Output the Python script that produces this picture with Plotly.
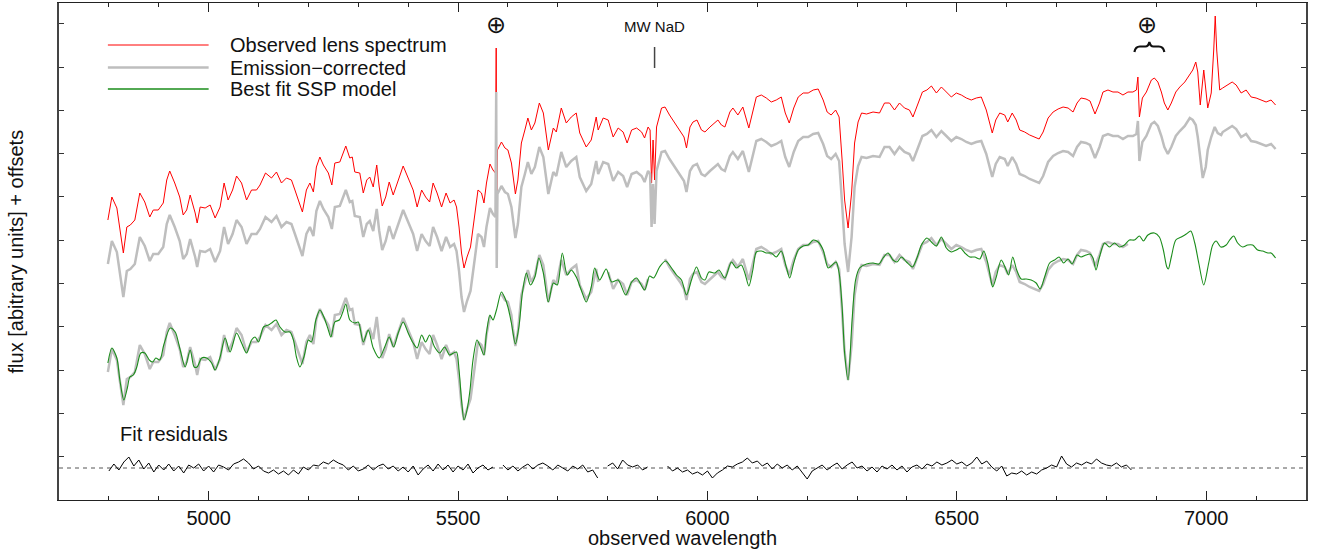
import numpy as np
import plotly.graph_objects as go

# ---------------- data ----------------
# Observed lens spectrum (arbitrary flux units)
OBS_WAVE = [4798, 4806, 4816, 4822, 4829, 4836, 4843, 4852, 4862, 4872, 4882, 4889, 4899, 4909, 4916, 4922,
            4932, 4942, 4949, 4956, 4963, 4973, 4977, 4983, 4993, 5003, 5013, 5023, 5031, 5039, 5048, 5056,
            5066, 5076, 5086, 5096, 5103, 5114, 5126, 5136, 5146, 5156, 5166, 5173, 5181, 5188, 5196, 5203,
            5210, 5216, 5223, 5230, 5240, 5247, 5253, 5263, 5275, 5283, 5288, 5293, 5303, 5310, 5317, 5323,
            5330, 5337, 5342, 5348, 5355, 5362, 5370, 5380, 5390, 5400, 5410, 5418, 5427, 5435, 5443, 5450,
            5458, 5467, 5476, 5484, 5492, 5497, 5502, 5507, 5512, 5518, 5525, 5534, 5540, 5547, 5552, 5557,
            5564, 5570, 5575, 5576.5, 5577.5, 5579, 5587, 5594, 5600, 5607, 5610, 5615, 5620, 5627, 5634, 5640,
            5647, 5654, 5663, 5671, 5681, 5691, 5697, 5707, 5717, 5727, 5737, 5744, 5757, 5767, 5777, 5781,
            5791, 5801, 5811, 5821, 5831, 5839, 5848, 5858, 5868, 5874, 5881, 5885, 5888, 5891, 5894, 5898,
            5908, 5915, 5924, 5935, 5945, 5953, 5958, 5965, 5971, 5979, 5988, 5995, 6005, 6015, 6021, 6028,
            6035, 6045, 6051, 6061, 6071, 6083, 6091, 6098, 6108, 6118, 6128, 6138, 6148, 6156, 6164, 6173,
            6182, 6192, 6202, 6212, 6222, 6232, 6240, 6248, 6257, 6264, 6270, 6275, 6282, 6289, 6295, 6302,
            6309, 6319, 6332, 6345, 6355, 6365, 6375, 6385, 6395, 6405, 6412, 6422, 6431, 6440, 6449, 6459,
            6469, 6479, 6489, 6499, 6509, 6519, 6529, 6539, 6549, 6559, 6566, 6571, 6578, 6586, 6596, 6602,
            6611, 6619, 6626, 6636, 6646, 6656, 6665, 6673, 6683, 6693, 6703, 6713, 6723, 6733, 6741, 6749,
            6759, 6767, 6772, 6777, 6786, 6793, 6803, 6813, 6823, 6833, 6843, 6853, 6860, 6863, 6866, 6872,
            6880, 6890, 6896, 6903, 6910, 6916, 6923, 6930, 6939, 6947, 6957, 6967, 6973, 6979, 6983, 6988,
            6995, 7003, 7010, 7015, 7018, 7021, 7027, 7033, 7043, 7052, 7060, 7070, 7080, 7090, 7100, 7110,
            7120, 7130, 7139]
OBS_FLUX = [128, 151, 140, 121, 95, 121, 123, 128, 155, 146, 131, 138, 138, 145, 168, 177,
            165, 151, 133, 138, 153, 135, 125, 141, 140, 143, 130, 141, 165, 148, 158, 172,
            165, 148, 158, 158, 163, 175, 170, 176, 165, 170, 168, 158, 145, 136, 158, 165,
            156, 181, 191, 183, 175, 163, 185, 186, 202, 190, 191, 176, 175, 155, 168, 171,
            161, 183, 161, 142, 151, 166, 153, 168, 182, 170, 158, 141, 158, 151, 146, 165,
            155, 141, 155, 145, 148, 141, 121, 95, 80, 91, 101, 135, 158, 155, 145, 165,
            184, 178, 175, 300, 124, 198, 206, 200, 198, 185, 171, 154, 168, 205, 218, 230,
            218, 225, 245, 235, 198, 220, 216, 240, 225, 231, 235, 215, 201, 208, 231, 218,
            230, 228, 211, 220, 216, 205, 218, 220, 216, 210, 221, 218, 165, 208, 168, 221,
            240, 241, 233, 225, 218, 211, 200, 221, 226, 228, 218, 216, 221, 226, 228, 223,
            221, 236, 240, 233, 241, 220, 235, 251, 253, 250, 246, 248, 251, 235, 225, 240,
            251, 255, 255, 258, 259, 248, 236, 233, 238, 231, 188, 148, 120, 155, 205, 226,
            235, 234, 236, 235, 245, 245, 238, 245, 240, 238, 231, 245, 256, 258, 262, 255,
            261, 256, 251, 255, 253, 250, 248, 250, 251, 238, 223, 215, 228, 235, 233, 226,
            235, 228, 218, 216, 213, 211, 209, 216, 230, 236, 239, 241, 240, 236, 245, 250,
            249, 247, 241, 234, 245, 256, 258, 256, 256, 253, 256, 256, 258, 271, 231, 250,
            256, 268, 270, 266, 256, 245, 238, 245, 256, 261, 266, 273, 278, 286, 276, 243,
            278, 240, 255, 298, 332, 298, 258, 260, 263, 266, 263, 255, 258, 251, 250, 248,
            246, 248, 243]

# Emission-corrected spectrum (same units)
CORR_WAVE = OBS_WAVE[:OBS_WAVE.index(6967)] + [6967, 6973, 6979, 6983, 6988, 6993, 6999, 7003, 7010, 7017,
                                               7023, 7030, 7033, 7043, 7052, 7060, 7070, 7080, 7090, 7100,
                                               7110, 7120, 7130, 7139]
CORR_FLUX = OBS_FLUX[:OBS_WAVE.index(6967)] + [274, 272, 267, 255, 235, 214, 225, 242, 255, 265,
                                               259, 257, 260, 263, 266, 263, 255, 258, 251, 250,
                                               248, 246, 248, 243]

# Best-fit SSP model
MODEL_WAVE = [4798, 4806, 4816, 4822, 4830, 4837, 4842, 4849, 4856, 4864, 4872, 4881, 4888, 4894, 4902, 4910,
              4923, 4933, 4943, 4953, 4963, 4971, 4977, 4986, 4996, 5006, 5013, 5023, 5033, 5043, 5056, 5066,
              5076, 5086, 5093, 5100, 5110, 5120, 5126, 5135, 5143, 5153, 5163, 5170, 5176, 5183, 5191, 5200,
              5206, 5215, 5223, 5231, 5240, 5245, 5253, 5262, 5269, 5275, 5283, 5293, 5300, 5310, 5320, 5330,
              5342, 5353, 5362, 5371, 5380, 5390, 5400, 5410, 5418, 5427, 5435, 5443, 5453, 5463, 5473, 5483,
              5491, 5497, 5502, 5507, 5512, 5518, 5524, 5530, 5538, 5545, 5552, 5557, 5564, 5570, 5577, 5587,
              5594, 5600, 5607, 5615, 5622, 5629, 5637, 5645, 5654, 5662, 5671, 5681, 5691, 5699, 5709, 5719,
              5727, 5737, 5747, 5757, 5767, 5774, 5784, 5797, 5808, 5821, 5836, 5848, 5858, 5874, 5884, 5892,
              5904, 5916, 5928, 5938, 5948, 5958, 5968, 5978, 5988, 5995, 6003, 6015, 6023, 6035, 6048, 6058,
              6068, 6075, 6083, 6091, 6098, 6108, 6118, 6128, 6138, 6148, 6158, 6165, 6173, 6182, 6192, 6202,
              6212, 6222, 6232, 6242, 6250, 6258, 6264, 6270, 6275, 6282, 6290, 6297, 6305, 6319, 6332, 6344,
              6352, 6362, 6372, 6380, 6389, 6399, 6411, 6420, 6429, 6440, 6449, 6459, 6469, 6479, 6489, 6499,
              6507, 6516, 6526, 6536, 6546, 6554, 6562, 6569, 6572, 6579, 6589, 6599, 6604, 6612, 6620, 6629,
              6639, 6649, 6659, 6667, 6676, 6686, 6696, 6705, 6714, 6723, 6731, 6741, 6749, 6759, 6767, 6773,
              6779, 6786, 6796, 6806, 6816, 6826, 6836, 6846, 6856, 6866, 6874, 6883, 6896, 6906, 6914, 6921,
              6924, 6930, 6939, 6950, 6960, 6969, 6977, 6985, 6995, 7005, 7013, 7020, 7029, 7040, 7047, 7055,
              7063, 7073, 7083, 7093, 7103, 7113, 7124, 7130, 7139]
MODEL_FLUX = [137, 152, 142, 120, 100, 112, 123, 125, 133, 147, 147, 140, 138, 142, 140, 155,
              172, 168, 150, 133, 150, 133, 133, 142, 142, 137, 130, 143, 162, 148, 167, 157,
              147, 160, 163, 158, 173, 175, 177, 180, 173, 168, 168, 160, 143, 133, 143, 160,
              158, 180, 190, 183, 170, 163, 178, 180, 188, 196, 180, 177, 178, 158, 170, 152,
              142, 153, 163, 153, 167, 178, 167, 157, 152, 165, 158, 165, 153, 147, 153, 145,
              147, 148, 130, 100, 80, 90, 110, 140, 160, 153, 145, 167, 185, 180, 190, 208,
              202, 193, 177, 156, 173, 207, 227, 215, 223, 242, 227, 198, 217, 215, 247, 225,
              230, 223, 210, 198, 213, 232, 220, 231, 218, 220, 205, 218, 222, 210, 224, 222,
              233, 239, 232, 225, 220, 205, 220, 233, 222, 220, 228, 227, 230, 222, 238, 232,
              235, 227, 214, 230, 248, 249, 247, 247, 243, 249, 233, 222, 237, 250, 254, 255,
              260, 258, 250, 232, 235, 238, 227, 193, 147, 120, 180, 220, 232, 236, 237, 236,
              242, 247, 240, 238, 243, 238, 233, 242, 255, 262, 258, 254, 263, 252, 248, 250,
              252, 247, 243, 243, 241, 249, 237, 218, 213, 223, 240, 230, 225, 243, 230, 221,
              221, 220, 217, 211, 223, 237, 240, 243, 237, 241, 236, 245, 243, 245, 246, 242,
              230, 243, 257, 253, 257, 253, 255, 260, 260, 264, 259, 265, 267, 263, 250, 233,
              231, 243, 260, 263, 266, 269, 257, 237, 215, 237, 255, 259, 253, 255, 260, 264,
              257, 253, 255, 255, 250, 249, 247, 247, 242]

# Fit residuals, sampled every 10 A from 4800 to 6850 (None = masked pixels)
RESID_WAVE = list(range(4800, 6851, 10))
RESID = [-3, 4, -2, 6, 11, 2, 8, -1, 5, -4,
         3, -2, 4, -3, 2, -5, 3, 0, 4, -3,
         2, -4, 3, 1, -2, 4, 6, 9, 5, -1,
         2, -3, -5, -2, -6, -3, -7, -2, -6, 1,
         -2, 3, 2, 6, 4, 8, 5, 3, -2, 2,
         -3, -1, 3, -2, 2, 4, -1, 2, -3, 1,
         -4, 2, -7, -1, 3, -3, 4, -2, 3, -4,
         2, -2, 4, -5, 0, 3, -2, 1, None, 3,
         -2, 2, -3, 1, 4, -1, 3, 5, 2, -2,
         3, 0, -3, 2, -1, 3, -4, -2, -10, None,
         2, 5, -1, 8, 3, 1, 3, -2, 1, None,
         None, None, 2, -3, 0, -4, -2, -6, -4, -7,
         -3, -10, -5, -2, 2, 1, 4, 6, 10, 5,
         7, 2, 5, -1, 4, 0, 3, -2, 2, -4,
         -11, -3, 0, 3, -2, 2, 5, -1, 3, 6,
         0, 2, -3, 1, -4, 2, -1, 3, -2, 2,
         -4, 1, 3, -1, 4, 2, 6, 3, 5, 8,
         4, 6, 2, 5, 11, 4, 7, 1, -3, 2,
         -8, -5, -6, -3, -7, -4, -6, -2, 0, 3,
         1, 12, 4, 1, 5, 3, 6, 4, 9, 5,
         3, 2, 5, 1, 3, -2]

# wavelength intervals masked in the fit (sky lines, NaD) and end of fitted range
MASKED = [(5570, 5586), (5784, 5798), (5882, 5914)]
FIT_END = 6850

# ---------------- display settings ----------------
OFFSET_OBS = 152
OFFSET_CORR = 108
RESID_LEVEL = 32
FONT = "Liberation Sans, Arial, sans-serif"
RED = "#ff0000"
GRAY = "#bebebe"
GREEN = "#1a8c1a"

fig = go.Figure()

# residual zero line
fig.add_shape(type="line", xref="paper", x0=0, x1=1, yref="y", y0=RESID_LEVEL, y1=RESID_LEVEL,
              line=dict(color="#555555", width=1, dash="4px,4px"), layer="below")

fig.add_trace(go.Scatter(x=OBS_WAVE, y=[v + OFFSET_OBS for v in OBS_FLUX], mode="lines",
                         line=dict(color=RED, width=1), name="Observed lens spectrum"))
fig.add_trace(go.Scatter(x=CORR_WAVE, y=[v + OFFSET_CORR for v in CORR_FLUX], mode="lines",
                         line=dict(color=GRAY, width=2.5), name="Emission-corrected"))


def masked(w):
    if w > FIT_END:
        return True
    return any(a <= w <= b for a, b in MASKED)


lower_x, lower_y = [], []
for w, v in zip(CORR_WAVE, CORR_FLUX):
    if w > FIT_END:
        break
    lower_x.append(w)
    lower_y.append(None if masked(w) else v)
fig.add_trace(go.Scatter(x=lower_x, y=lower_y, mode="lines", connectgaps=False,
                         line=dict(color=GRAY, width=2.5), showlegend=False))
fig.add_trace(go.Scatter(x=MODEL_WAVE, y=MODEL_FLUX, mode="lines",
                         line=dict(color=GREEN, width=1.1, shape="spline", smoothing=0.8),
                         name="Best fit SSP model"))
fig.add_trace(go.Scatter(x=RESID_WAVE, y=[None if r is None else r + RESID_LEVEL for r in RESID],
                         mode="lines", connectgaps=False, line=dict(color="#000000", width=1),
                         name="Fit residuals"))

# ---------------- hand-made legend ----------------
legend_items = [("Observed lens spectrum", RED, 1, 455), ("Emission\u2212corrected", GRAY, 2.5, 432.5),
                ("Best fit SSP model", GREEN, 1.5, 411)]
annotations = []
for label, col, wdt, yy in legend_items:
    fig.add_shape(type="line", xref="x", yref="y", x0=4798, x1=5000, y0=yy, y1=yy,
                  line=dict(color=col, width=wdt))
    annotations.append(dict(x=5038, y=yy, xref="x", yref="y", text=label, showarrow=False,
                            xanchor="left", yanchor="middle", font=dict(size=20, color="#111", family=FONT)))

annotations += [
    dict(x=4818, y=66, xref="x", yref="y", text="Fit residuals", showarrow=False, xanchor="left",
         yanchor="middle", font=dict(size=20, color="#111", family=FONT)),
    dict(x=5577, y=475, xref="x", yref="y", text="\u2295", showarrow=False, xanchor="center",
         yanchor="middle", font=dict(size=24, color="#111", family="DejaVu Sans")),
    dict(x=6882, y=475, xref="x", yref="y", text="\u2295", showarrow=False, xanchor="center",
         yanchor="middle", font=dict(size=24, color="#111", family="DejaVu Sans")),
    dict(x=5893, y=474, xref="x", yref="y", text="MW NaD", showarrow=False, xanchor="center",
         yanchor="middle", font=dict(size=15, color="#111", family=FONT)),
    dict(x=-0.0345, y=0.5, xref="paper", yref="paper", text="flux [abitrary units] + offsets",
         textangle=-90, showarrow=False, xanchor="center", yanchor="middle",
         font=dict(size=20, color="#111", family=FONT)),
    dict(x=0.5, y=-0.0765, xref="paper", yref="paper", text="observed wavelength", showarrow=False,
         xanchor="center", yanchor="middle", font=dict(size=20, color="#111", family=FONT)),
]

# NaD marker and telluric brace
fig.add_shape(type="line", xref="x", yref="y", x0=5894, x1=5894, y0=432, y1=453,
              line=dict(color="#444", width=1.5))
fig.add_shape(type="path", xref="x", yref="y",
              path="M 6856,448 Q 6858,453.5 6867,453.5 L 6878,453.5 Q 6884,453.5 6886,458 "
                   "Q 6888,453.5 6894,453.5 L 6905,453.5 Q 6914,453.5 6916,448",
              line=dict(color="#111", width=2.2))

fig.update_layout(
    width=1317, height=554,
    margin=dict(l=59, r=11, t=3, b=54),
    paper_bgcolor="white", plot_bgcolor="white",
    showlegend=False,
    annotations=annotations,
    font=dict(family=FONT, size=20, color="#111"),
    xaxis=dict(range=[4700, 7200], tickvals=[5000, 5500, 6000, 6500, 7000],
               ticks="inside", ticklen=9, tickwidth=1, tickcolor="#222",
               minor=dict(dtick=100, tick0=4700, ticks="inside", ticklen=4, tickwidth=1, tickcolor="#222"),
               showline=True, linecolor="#222", linewidth=1, mirror="ticks",
               showgrid=False, zeroline=False, tickfont=dict(size=20, family=FONT, color="#111")),
    yaxis=dict(range=[0, 497], tick0=0, dtick=43.3, ticks="inside", ticklen=5, tickwidth=1,
               tickcolor="#333", showticklabels=False, showline=True, linecolor="#444", linewidth=2,
               mirror="ticks", showgrid=False, zeroline=False),
)

fig.write_html("out.html", config={"displayModeBar": False},
               post_script="document.body.style.margin='0px';document.body.style.overflow='hidden';")
